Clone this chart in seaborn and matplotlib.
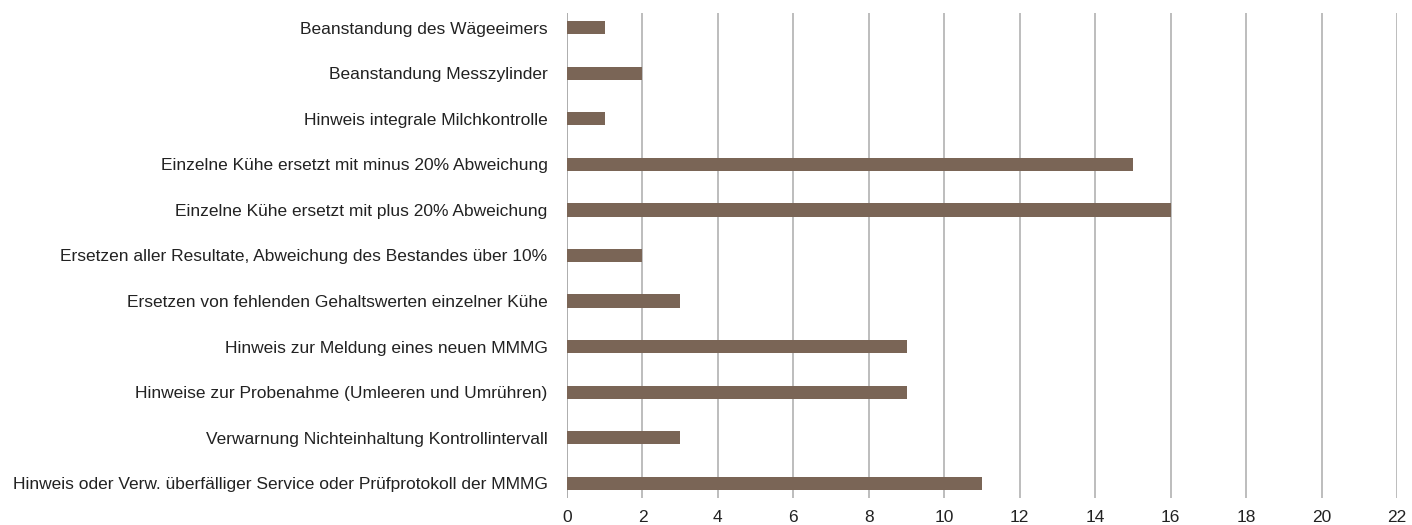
import matplotlib
matplotlib.use("Agg")
import matplotlib.pyplot as plt
import seaborn as sns
import pandas as pd

categories = [
    "Beanstandung des Wägeeimers",
    "Beanstandung Messzylinder",
    "Hinweis integrale Milchkontrolle",
    "Einzelne Kühe ersetzt mit minus 20% Abweichung",
    "Einzelne Kühe ersetzt mit plus 20% Abweichung",
    "Ersetzen aller Resultate, Abweichung des Bestandes über 10%",
    "Ersetzen von fehlenden Gehaltswerten einzelner Kühe",
    "Hinweis zur Meldung eines neuen MMMG",
    "Hinweise zur Probenahme (Umleeren und Umrühren)",
    "Verwarnung Nichteinhaltung Kontrollintervall",
    "Hinweis oder Verw. überfälliger Service oder Prüfprotokoll der MMMG",
]
values = [1, 2, 1, 15, 16, 2, 3, 9, 9, 3, 11]
xticks = list(range(0, 23, 2))

df = pd.DataFrame({"cat": categories, "val": values})

sns.set_theme(style="white")
plt.rcParams["font.family"] = ["Liberation Sans", "DejaVu Sans"]

fig = plt.figure(figsize=(14.12, 5.25), dpi=100)
ax = fig.add_axes([567 / 1412, 27 / 525, 830 / 1412, 485 / 525])

sns.barplot(data=df, x="val", y="cat", orient="h", color="#7a6556",
            saturation=1, width=0.29, linewidth=0, ax=ax)

ax.set_xlim(0, 22)
ax.set_ylim(10.32, -0.32)
ax.set_xticks(xticks)
ax.set_xticklabels([str(t) for t in xticks])
ax.xaxis.grid(True, color="#ababab", linewidth=1.1)
ax.set_axisbelow(True)
for s in ax.spines.values():
    s.set_visible(False)
ax.axvline(0, color="#ababab", linewidth=1.1, zorder=0)
ax.tick_params(axis="both", length=0, labelsize=12.5, colors="#222222")
ax.tick_params(axis="y", pad=14)
ax.tick_params(axis="x", pad=9)
ax.set_xlabel("")
ax.set_ylabel("")

fig.savefig("out.png", dpi=100)
